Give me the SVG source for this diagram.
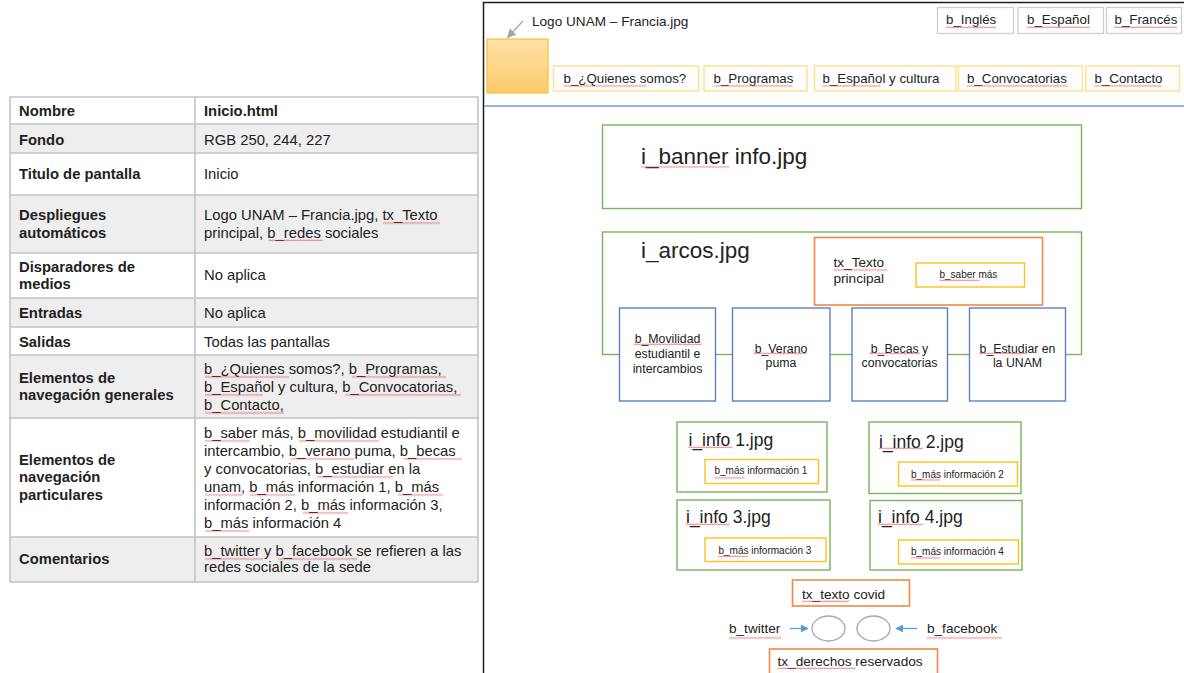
<svg xmlns="http://www.w3.org/2000/svg" width="1184" height="673" viewBox="0 0 1184 673">
  <style>
    text { font-family: "Liberation Sans", Arial, sans-serif; fill: #222; }
    .th { font-size: 14.8px; font-weight: bold; }
    .td { font-size: 14.8px; }
    .row-w { fill: #ffffff; }
    .row-g { fill: #eeeeee; }
    .grid { stroke: #c4c4c4; stroke-width: 1.6; fill: none; }
    .lang { fill: #fff; stroke: #cfcfcf; stroke-width: 1.3; }
    .nav { fill: #fff; stroke: #ffdf88; stroke-width: 1.4; }
    .btn { fill: #fff; stroke: #ffc21a; stroke-width: 1.4; }
    .img { fill: #fff; stroke: #78b454; stroke-width: 1.4; }
    .img-open { fill: none; stroke: #78b454; stroke-width: 1.4; }
    .txt { fill: #fff; stroke: #ef8a45; stroke-width: 1.6; }
    .blue { fill: #fff; stroke: #5b80c8; stroke-width: 1.4; }
    .social { fill: #fff; stroke: #a8a8a8; stroke-width: 1.3; }
    .f13 { font-size: 13.3px; }
    .f136 { font-size: 13.6px; }
    .f12 { font-size: 12.3px; }
    .f10 { font-size: 10px; }
    .f17 { font-size: 17.5px; }
    .f22 { font-size: 22.5px; }
    .mid { text-anchor: middle; }
    .sq { fill: url(#sq); }
  </style>
  <defs>
    <pattern id="sq" width="3" height="3" patternUnits="userSpaceOnUse">
      <path d="M0 2.3 L1.5 0.7 L3 2.3" fill="none" stroke="#e23b3b" stroke-width="0.75"/>
    </pattern>
    <linearGradient id="logoFill" x1="0" y1="0" x2="0" y2="1">
      <stop offset="0" stop-color="#ffe3a6"/>
      <stop offset="1" stop-color="#fdca6b"/>
    </linearGradient>
    <marker id="ahGray" viewBox="0 0 10 10" refX="9" refY="5" markerWidth="7" markerHeight="7" orient="auto">
      <path d="M0 0 L10 5 L0 10 z" fill="#a6a6a6"/>
    </marker>
    <marker id="ahBlue" viewBox="0 0 10 10" refX="9" refY="5" markerWidth="6" markerHeight="6" orient="auto">
      <path d="M0 0 L10 5 L0 10 z" fill="#5b9bd5"/>
    </marker>
  </defs>

  <rect width="1184" height="673" fill="#ffffff"/>

  <!-- ===== Screen specification table ===== -->
  <g id="spec-table">
    <rect class="row-w" x="10" y="97" width="468" height="27"/>
    <rect class="row-g" x="10" y="124" width="468" height="29"/>
    <rect class="row-w" x="10" y="153" width="468" height="42"/>
    <rect class="row-g" x="10" y="195" width="468" height="58"/>
    <rect class="row-w" x="10" y="253" width="468" height="45"/>
    <rect class="row-g" x="10" y="298" width="468" height="29"/>
    <rect class="row-w" x="10" y="327" width="468" height="28"/>
    <rect class="row-g" x="10" y="355" width="468" height="63"/>
    <rect class="row-w" x="10" y="418" width="468" height="119"/>
    <rect class="row-g" x="10" y="537" width="468" height="45"/>
    <path class="grid" d="M10 97 H478 V582 H10 Z M195 97 V582 M10 124 H478 M10 153 H478 M10 195 H478 M10 253 H478 M10 298 H478 M10 327 H478 M10 355 H478 M10 418 H478 M10 537 H478"/>

    <text class="th" x="19" y="116">Nombre</text>
    <text class="th" x="204" y="116">Inicio.html</text>
    <text class="th" x="19" y="145">Fondo</text>
    <text class="td" x="204" y="145">RGB 250, 244, 227</text>
    <text class="th" x="19" y="179">Titulo de pantalla</text>
    <text class="td" x="204" y="179">Inicio</text>
    <text class="th" x="19" y="220">Despliegues</text>
    <text class="th" x="19" y="237.5">automáticos</text>
    <text class="td" x="204" y="220">Logo UNAM – Francia.jpg, tx_Texto</text>
    <text class="td" x="204" y="237.5">principal, b_redes sociales</text>
    <text class="th" x="19" y="272">Disparadores de</text>
    <text class="th" x="19" y="289">medios</text>
    <text class="td" x="204" y="280">No aplica</text>
    <text class="th" x="19" y="318">Entradas</text>
    <text class="td" x="204" y="318">No aplica</text>
    <text class="th" x="19" y="347">Salidas</text>
    <text class="td" x="204" y="347">Todas las pantallas</text>
    <text class="th" x="19" y="383">Elementos de</text>
    <text class="th" x="19" y="400">navegación generales</text>
    <text class="td" x="204" y="374">b_¿Quienes somos?, b_Programas,</text>
    <text class="td" x="204" y="392">b_Español y cultura, b_Convocatorias,</text>
    <text class="td" x="204" y="410">b_Contacto,</text>
    <text class="th" x="19" y="465">Elementos de</text>
    <text class="th" x="19" y="482">navegación</text>
    <text class="th" x="19" y="500">particulares</text>
    <text class="td" x="204" y="438">b_saber más, b_movilidad estudiantil e</text>
    <text class="td" x="204" y="456">intercambio, b_verano puma, b_becas</text>
    <text class="td" x="204" y="474">y convocatorias, b_estudiar en la</text>
    <text class="td" x="204" y="492">unam, b_más información 1, b_más</text>
    <text class="td" x="204" y="510">información 2, b_más información 3,</text>
    <text class="td" x="204" y="528">b_más información 4</text>
    <text class="th" x="19" y="564">Comentarios</text>
    <text class="td" x="204" y="556">b_twitter y b_facebook se refieren a las</text>
    <text class="td" x="204" y="572">redes sociales de la sede</text>
  </g>

  <!-- ===== Page wireframe ===== -->
  <g id="frame">
    <rect x="483.5" y="2.5" width="720" height="700" fill="none" stroke="#1e1e1e" stroke-width="1.5"/>
    <line x1="484" y1="106" x2="1184" y2="106" stroke="#8fb7e3" stroke-width="2"/>
  </g>

  <g id="logo">
    <rect x="487" y="39" width="61" height="54" fill="url(#logoFill)" stroke="#f6c445" stroke-width="1.3"/>
    <text class="f136" x="532" y="25.5">Logo UNAM – Francia.jpg</text>
  </g>

  <g id="lang-ingles">
    <rect class="lang" x="937.5" y="7.5" width="76" height="26"/>
    <text class="f13" x="946" y="24">b_Inglés</text>
  </g>
  <g id="lang-espanol">
    <rect class="lang" x="1018" y="7.5" width="85.5" height="26"/>
    <text class="f13" x="1027" y="24">b_Español</text>
  </g>
  <g id="lang-frances">
    <rect class="lang" x="1106.5" y="7.5" width="75" height="26"/>
    <text class="f13" x="1114.5" y="24">b_Francés</text>
  </g>

  <g id="nav-quienes">
    <rect class="nav" x="553.5" y="66" width="145" height="25"/>
    <text class="f13" x="563.5" y="83">b_¿Quienes somos?</text>
  </g>
  <g id="nav-programas">
    <rect class="nav" x="704" y="66" width="103" height="25"/>
    <text class="f13" x="713.5" y="83">b_Programas</text>
  </g>
  <g id="nav-espanol">
    <rect class="nav" x="814.5" y="66" width="141.5" height="25"/>
    <text class="f13" x="822.5" y="83">b_Español y cultura</text>
  </g>
  <g id="nav-convocatorias">
    <rect class="nav" x="958.5" y="66" width="124" height="25"/>
    <text class="f13" x="967" y="83">b_Convocatorias</text>
  </g>
  <g id="nav-contacto">
    <rect class="nav" x="1086" y="66" width="93.5" height="25"/>
    <text class="f13" x="1094.5" y="83">b_Contacto</text>
  </g>

  <g id="banner">
    <rect class="img" x="602.5" y="125" width="479" height="83.5"/>
    <text class="f22" x="641" y="164">i_banner info.jpg</text>
  </g>

  <g id="arcos">
    <rect class="img-open" x="602.5" y="232" width="479" height="122.5"/>
    <text class="f22" x="641" y="258">i_arcos.jpg</text>
  </g>

  <g id="texto-principal">
    <rect class="txt" x="814.5" y="237.5" width="228" height="67.5"/>
    <text class="f136" x="833.5" y="266.5">tx_Texto</text>
    <text class="f136" x="833.5" y="283">principal</text>
  </g>
  <g id="saber-mas">
    <rect class="btn" x="916" y="263" width="108.5" height="24"/>
    <text class="f10" x="939.5" y="277.5">b_saber más</text>
  </g>

  <g id="movilidad">
    <rect class="blue" x="619.5" y="308" width="96" height="93"/>
    <text class="f12 mid" x="667.5" y="343">b_Movilidad</text>
    <text class="f12 mid" x="667.5" y="358">estudiantil e</text>
    <text class="f12 mid" x="667.5" y="373">intercambios</text>
  </g>
  <g id="verano">
    <rect class="blue" x="732.5" y="308" width="97.5" height="93"/>
    <text class="f12 mid" x="781" y="352.7">b_Verano</text>
    <text class="f12 mid" x="781" y="367">puma</text>
  </g>
  <g id="becas">
    <rect class="blue" x="852" y="308" width="95.5" height="93"/>
    <text class="f12 mid" x="899.5" y="352.7">b_Becas y</text>
    <text class="f12 mid" x="899.5" y="367">convocatorias</text>
  </g>
  <g id="estudiar">
    <rect class="blue" x="969.5" y="308" width="96" height="93"/>
    <text class="f12 mid" x="1017.5" y="352.7">b_Estudiar en</text>
    <text class="f12 mid" x="1017.5" y="367">la UNAM</text>
  </g>

  <g id="info1">
    <rect class="img" x="677" y="422" width="150" height="70"/>
    <text class="f17" x="688.5" y="446">i_info 1.jpg</text>
    <rect class="btn" x="705" y="459.5" width="113.5" height="24"/>
    <text class="f10" x="714.5" y="473.6">b_más información 1</text>
  </g>
  <g id="info2">
    <rect class="img" x="869" y="422" width="152" height="71.5"/>
    <text class="f17" x="879" y="448">i_info 2.jpg</text>
    <rect class="btn" x="898.5" y="462" width="119" height="24"/>
    <text class="f10" x="911" y="478">b_más información 2</text>
  </g>
  <g id="info3">
    <rect class="img" x="677" y="500" width="153" height="70"/>
    <text class="f17" x="686" y="523">i_info 3.jpg</text>
    <rect class="btn" x="705" y="538" width="121" height="23.5"/>
    <text class="f10" x="718.5" y="554">b_más información 3</text>
  </g>
  <g id="info4">
    <rect class="img" x="870" y="500.5" width="152" height="69.5"/>
    <text class="f17" x="878" y="523">i_info 4.jpg</text>
    <rect class="btn" x="898.5" y="540" width="120" height="24"/>
    <text class="f10" x="911" y="555">b_más información 4</text>
  </g>

  <g id="texto-covid">
    <rect class="txt" x="792.5" y="580" width="117" height="26"/>
    <text class="f136" x="802" y="599">tx_texto covid</text>
  </g>
  <g id="twitter">
    <ellipse class="social" cx="828.5" cy="628.5" rx="16.5" ry="12.5"/>
    <text class="f136" x="729" y="633">b_twitter</text>
  </g>
  <g id="facebook">
    <ellipse class="social" cx="873.5" cy="628.5" rx="16.5" ry="12.5"/>
    <text class="f136" x="927" y="633">b_facebook</text>
  </g>
  <g id="derechos">
    <rect class="txt" x="769.5" y="649" width="168" height="40"/>
    <text class="f136" x="777.5" y="666">tx_derechos reservados</text>
  </g>

  <!-- connectors -->
  <g id="connectors" fill="none" stroke-width="1.3">
    <line x1="523" y1="21" x2="507.5" y2="37.5" stroke="#a6a6a6" marker-end="url(#ahGray)"/>
    <line x1="790" y1="628.5" x2="808" y2="628.5" stroke="#5b9bd5" marker-end="url(#ahBlue)"/>
    <line x1="917" y1="628.5" x2="896" y2="628.5" stroke="#5b9bd5" marker-end="url(#ahBlue)"/>
  </g>

  <!-- spell-check wavy underlines -->
  <g id="squiggles">
    <rect class="sq" width="57" height="3" transform="translate(383,221.5)"/>
    <rect class="sq" width="54" height="3" transform="translate(268.5,239)"/>
    <rect class="sq" width="84" height="3" transform="translate(205,375.5)"/>
    <rect class="sq" width="94" height="3" transform="translate(352,375.5)"/>
    <rect class="sq" width="58" height="3" transform="translate(205,393.5)"/>
    <rect class="sq" width="116" height="3" transform="translate(345,393.5)"/>
    <rect class="sq" width="79" height="3" transform="translate(205,411.5)"/>
    <rect class="sq" width="45" height="3" transform="translate(205,439.5)"/>
    <rect class="sq" width="80" height="3" transform="translate(299,439.5)"/>
    <rect class="sq" width="63" height="3" transform="translate(291,457.5)"/>
    <rect class="sq" width="59" height="3" transform="translate(403,457.5)"/>
    <rect class="sq" width="76" height="3" transform="translate(317,475.5)"/>
    <rect class="sq" width="37" height="3" transform="translate(205,493.5)"/>
    <rect class="sq" width="45" height="3" transform="translate(250,493.5)"/>
    <rect class="sq" width="45" height="3" transform="translate(398,493.5)"/>
    <rect class="sq" width="45" height="3" transform="translate(303,511.5)"/>
    <rect class="sq" width="44" height="3" transform="translate(205,529.5)"/>
    <rect class="sq" width="58" height="3" transform="translate(205,557.5)"/>
    <rect class="sq" width="79" height="3" transform="translate(278,557.5)"/>

    <rect class="sq" width="50" height="3" transform="translate(946,26)"/>
    <rect class="sq" width="63" height="3" transform="translate(1027,26)"/>
    <rect class="sq" width="63" height="3" transform="translate(1114,26)"/>
    <rect class="sq" width="83" height="3" transform="translate(563.5,84.5)"/>
    <rect class="sq" width="79" height="3" transform="translate(713.5,84.5)"/>
    <rect class="sq" width="58" height="3" transform="translate(822.5,84.5)"/>
    <rect class="sq" width="100" height="3" transform="translate(967,84.5)"/>
    <rect class="sq" width="67" height="3" transform="translate(1094.5,84.5)"/>
    <rect class="sq" width="88" height="3" transform="translate(641,165.5)"/>
    <rect class="sq" width="54" height="3" transform="translate(833.5,268.5)"/>
    <rect class="sq" width="40" height="3" transform="translate(939.5,279)"/>
    <rect class="sq" width="68" height="3" transform="translate(633.5,343)"/>
    <rect class="sq" width="53" height="3" transform="translate(753.5,352)"/>
    <rect class="sq" width="51" height="3" transform="translate(869,352)"/>
    <rect class="sq" width="48" height="3" transform="translate(979,352)"/>
    <rect class="sq" width="44" height="3" transform="translate(688.5,446)"/>
    <rect class="sq" width="44" height="3" transform="translate(879,447)"/>
    <rect class="sq" width="44" height="3" transform="translate(686,523)"/>
    <rect class="sq" width="45" height="3" transform="translate(878,523)"/>
    <rect class="sq" width="30" height="3" transform="translate(714.5,476.5)"/>
    <rect class="sq" width="29" height="3" transform="translate(911,478.5)"/>
    <rect class="sq" width="30" height="3" transform="translate(718.5,555)"/>
    <rect class="sq" width="29" height="3" transform="translate(911,556.5)"/>
    <rect class="sq" width="47" height="3" transform="translate(802,600)"/>
    <rect class="sq" width="52" height="3" transform="translate(729,636.5)"/>
    <rect class="sq" width="75" height="3" transform="translate(927,636.5)"/>
    <rect class="sq" width="78" height="3" transform="translate(777.5,667)"/>
  </g>
</svg>
